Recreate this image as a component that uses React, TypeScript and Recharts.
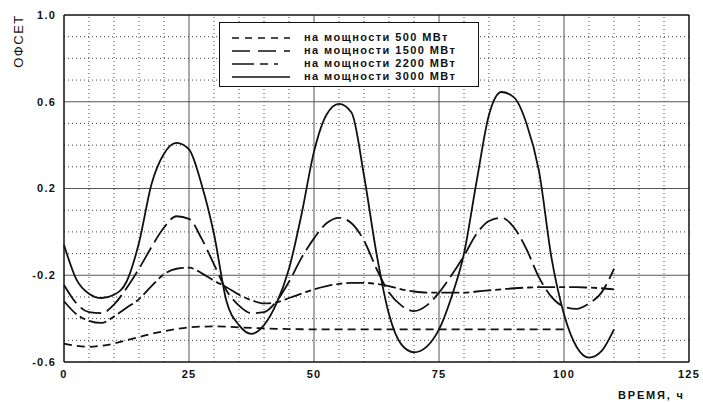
import React from "react";
import {
  LineChart,
  Line,
  XAxis,
  YAxis,
  ReferenceLine,
  Legend,
} from "recharts";

// time, hours (step 2.5)
const times = [
  0, 2.5, 5, 7.5, 10, 12.5, 15, 17.5, 20, 22.5, 25, 27.5, 30, 32.5, 35, 37.5,
  40, 42.5, 45, 47.5, 50, 52.5, 55, 57.5, 60, 62.5, 65, 67.5, 70, 72.5, 75,
  77.5, 80, 82.5, 85, 87.5, 90, 92.5, 95, 97.5, 100, 102.5, 105, 107.5, 110,
];

// 500 MW curve stops at t = 100
const p500 = [
  -0.515, -0.525, -0.53, -0.525, -0.515, -0.5, -0.485, -0.47, -0.458, -0.448,
  -0.44, -0.437, -0.436, -0.437, -0.44, -0.443, -0.445, -0.447, -0.448, -0.449,
  -0.45, -0.45, -0.45, -0.45, -0.45, -0.45, -0.45, -0.45, -0.45, -0.45, -0.45,
  -0.45, -0.45, -0.45, -0.45, -0.45, -0.45, -0.45, -0.45, -0.45, -0.45,
];

const p1500 = [
  -0.245, -0.33, -0.37, -0.375, -0.335, -0.26, -0.17, -0.07, 0.02, 0.072, 0.06,
  -0.03, -0.15, -0.27, -0.34, -0.375, -0.37, -0.32, -0.23, -0.12, -0.03, 0.04,
  0.065, 0.04, -0.04, -0.17, -0.28, -0.34, -0.365, -0.34, -0.28, -0.2, -0.11,
  -0.01, 0.05, 0.065, 0.02, -0.08, -0.21, -0.3, -0.345, -0.355, -0.33, -0.28,
  -0.17,
];

const p2200 = [
  -0.32, -0.38, -0.41, -0.42, -0.39, -0.35, -0.31, -0.25, -0.195, -0.17,
  -0.165, -0.19, -0.225, -0.255, -0.29, -0.315, -0.33, -0.325, -0.305, -0.285,
  -0.265, -0.25, -0.24, -0.235, -0.235, -0.24, -0.25, -0.265, -0.275, -0.28,
  -0.28, -0.28, -0.28, -0.275, -0.27, -0.265, -0.26, -0.257, -0.255, -0.255,
  -0.255, -0.255, -0.257, -0.26, -0.265,
];

const p3000 = [
  -0.06, -0.22, -0.285, -0.305, -0.29, -0.23, -0.05, 0.22, 0.36, 0.41, 0.38,
  0.22, -0.01, -0.32, -0.43, -0.47, -0.43, -0.33, -0.17, 0.08, 0.37, 0.54,
  0.59, 0.55, 0.26, -0.1, -0.38, -0.52, -0.555, -0.53, -0.45, -0.3, -0.1, 0.23,
  0.54, 0.645, 0.62, 0.5, 0.28, -0.12, -0.38, -0.53, -0.58, -0.55, -0.45,
];

const xTicks = [0, 25, 50, 75, 100, 125];
const yTicks = [-0.6, -0.2, 0.2, 0.6, 1.0];
const xMajor = [25, 50, 75, 100];
const xMinor = [
  5, 10, 15, 20, 30, 35, 40, 45, 55, 60, 65, 70, 80, 85, 90, 95, 105, 110, 115,
  120,
];
const yMajor = [0.6, 0.2, -0.2];
const yMinor = [-0.5, -0.4, -0.3, -0.1, 0, 0.1, 0.3, 0.4, 0.5, 0.7, 0.8, 0.9];

const series = [
  { key: "p500", name: "на мощности 500 МВт", dash: "8 5", legendDash: "7 6" },
  { key: "p1500", name: "на мощности 1500 МВт", dash: "22 6", legendDash: "18 8" },
  { key: "p2200", name: "на мощности 2200 МВт", dash: "18 4 6 4", legendDash: "22 6 8 6 4" },
  { key: "p3000", name: "на мощности 3000 МВт", dash: undefined, legendDash: undefined },
];

const data = times.map((t, i) => ({
  t,
  p500: p500[i],
  p1500: p1500[i],
  p2200: p2200[i],
  p3000: p3000[i],
}));

const font = "'Liberation Sans', Arial, sans-serif";
const ink = "#111";

function LegendBox() {
  return (
    <div
      style={{
        width: 260,
        height: 65,
        border: `1.5px solid ${ink}`,
        background: "#fff",
        boxSizing: "border-box",
        paddingTop: 8,
        paddingLeft: 12,
        fontFamily: font,
        fontSize: 11,
        fontWeight: "bold",
        letterSpacing: 1.4,
        color: ink,
      }}
    >
      {series.map((s) => (
        <div key={s.key} style={{ height: 13, display: "flex", alignItems: "center" }}>
          <svg width={58} height={6} style={{ marginRight: 14 }}>
            <line
              x1={0}
              y1={3}
              x2={58}
              y2={3}
              stroke={ink}
              strokeWidth={1.6}
              strokeDasharray={s.legendDash}
            />
          </svg>
          <span style={{ lineHeight: "13px", whiteSpace: "nowrap" }}>{s.name}</span>
        </div>
      ))}
    </div>
  );
}

export default function App() {
  return (
    <div style={{ position: "absolute", left: 0, top: 0, width: 703, height: 403, background: "#fff" }}>
      <LineChart
        width={703}
        height={403}
        data={data}
        margin={{ top: 15, right: 14, bottom: 0, left: 0 }}
      >
        <XAxis
          dataKey="t"
          type="number"
          domain={[0, 125]}
          ticks={xTicks}
          height={41}
          tickLine={false}
          axisLine={{ stroke: ink, strokeWidth: 1.5 }}
          tick={{ fill: ink, fontSize: 11, fontWeight: "bold", fontFamily: font, letterSpacing: 1.2 }}
        />
        <YAxis
          type="number"
          domain={[-0.6, 1]}
          ticks={yTicks}
          width={64}
          tickLine={false}
          allowDataOverflow
          tickFormatter={(v: number) => v.toFixed(1)}
          axisLine={{ stroke: ink, strokeWidth: 1.5 }}
          tick={{ fill: ink, fontSize: 11, fontWeight: "bold", fontFamily: font, letterSpacing: 1.2 }}
        />
        {xMinor.map((v) => (
          <ReferenceLine key={"xm" + v} x={v} stroke="#444" strokeDasharray="1 3" />
        ))}
        {yMinor.map((v) => (
          <ReferenceLine key={"ym" + v} y={v} stroke="#444" strokeDasharray="1 3" />
        ))}
        {xMajor.map((v) => (
          <ReferenceLine key={"xM" + v} x={v} stroke="#555" strokeWidth={1} />
        ))}
        {yMajor.map((v) => (
          <ReferenceLine key={"yM" + v} y={v} stroke="#555" strokeWidth={1} />
        ))}
        <ReferenceLine x={125} stroke={ink} strokeWidth={1.5} />
        <ReferenceLine y={1} stroke={ink} strokeWidth={1.5} />
        {series.map((s) => (
          <Line
            key={s.key}
            dataKey={s.key}
            name={s.name}
            type="monotone"
            stroke={ink}
            strokeWidth={1.8}
            strokeDasharray={s.dash}
            dot={false}
            isAnimationActive={false}
          />
        ))}
        <Legend
          layout="vertical"
          align="center"
          verticalAlign="middle"
          wrapperStyle={{ left: 219, top: 22, width: 260, height: 65 }}
          content={() => <LegendBox />}
        />
      </LineChart>
      <div
        style={{
          position: "absolute",
          left: 18,
          top: 41,
          transform: "translate(-50%, -50%) rotate(-90deg)",
          fontFamily: font,
          fontSize: 13,
          letterSpacing: 1.5,
          color: ink,
          whiteSpace: "nowrap",
        }}
      >
        ОФСЕТ
      </div>
      <div
        style={{
          position: "absolute",
          left: 618,
          top: 389,
          fontFamily: font,
          fontSize: 11,
          fontWeight: "bold",
          letterSpacing: 1.8,
          color: ink,
          whiteSpace: "nowrap",
        }}
      >
        ВРЕМЯ, ч
      </div>
    </div>
  );
}
